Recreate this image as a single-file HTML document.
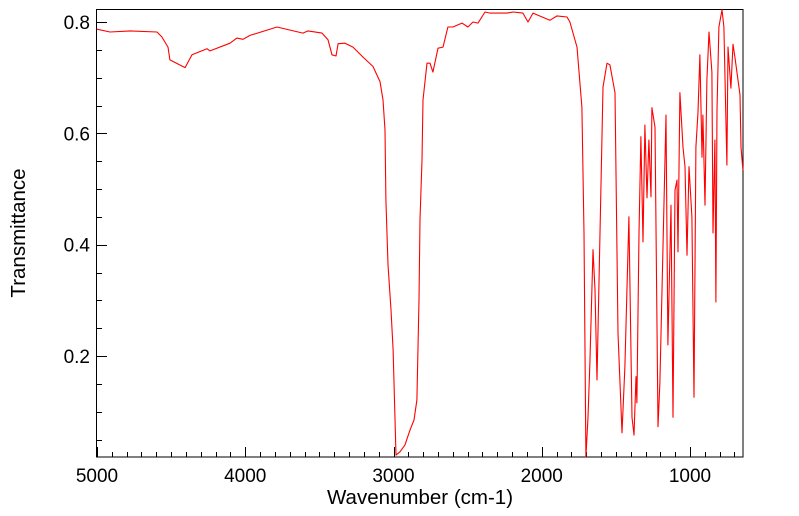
<!DOCTYPE html>
<html><head><meta charset="utf-8"><style>
html,body{margin:0;padding:0;background:#fff;}
svg{display:block;font-family:"Liberation Sans","DejaVu Sans",sans-serif;}
</style></head><body>
<svg id="chart" width="799" height="516" viewBox="0 0 799 516" xmlns="http://www.w3.org/2000/svg">
<rect x="96.5" y="9.5" width="646.5" height="447.5" fill="none" stroke="#000" stroke-width="1"/>
<g id="ticks"></g>
<g id="labels"></g>
<path id="series" fill="none" stroke="#ff0000" stroke-width="1.1" stroke-linejoin="round"/>
<text x="420" y="504" font-size="20.5" text-anchor="middle">Wavenumber (cm-1)</text>
<text x="25" y="233" font-size="20.5" text-anchor="middle" transform="rotate(-90 25 233)">Transmittance</text>
</svg>
<script>
const wavenumbers=[5000,4912,4777,4595,4562,4521,4508,4406,4359,4258,4238,4103,4056,4015,3968,3786,3611,3577,3482,3442,3415,3388,3374,3327,3273,3206,3138,3091,3071,3057,3051,3037,3017,3003,2983,2956,2923,2889,2862,2842,2828,2821,2808,2801,2774,2754,2734,2700,2666,2633,2599,2538,2498,2464,2430,2383,2349,2235,2194,2127,2093,2059,1945,1897,1830,1810,1762,1729,1715,1702,1688,1675,1654,1641,1627,1607,1587,1560,1540,1506,1486,1459,1439,1412,1391,1378,1364,1358,1344,1331,1317,1304,1290,1277,1263,1257,1236,1216,1203,1162,1149,1128,1115,1101,1088,1081,1068,1047,1034,1020,1007,987,973,960,946,933,919,913,899,886,872,852,845,832,825,818,805,784,771,751,744,724,710,697,663,656,643];
const transmittance=[.787,.782,.784,.782,.773,.755,.732,.718,.741,.752,.748,.762,.771,.769,.776,.791,.780,.784,.780,.768,.741,.739,.761,.762,.755,.737,.720,.693,.660,.606,.480,.364,.283,.211,.022,.028,.040,.067,.085,.121,.301,.445,.552,.660,.726,.726,.710,.753,.755,.791,.791,.798,.791,.800,.798,.818,.816,.816,.818,.816,.800,.816,.803,.811,.809,.800,.755,.647,.421,.019,.090,.188,.391,.319,.157,.421,.683,.726,.723,.673,.241,.062,.181,.450,.090,.058,.163,.116,.421,.594,.405,.615,.484,.588,.486,.646,.611,.073,.153,.633,.220,.471,.090,.498,.516,.387,.673,.575,.540,.381,.540,.450,.126,.575,.638,.741,.557,.633,.471,.696,.782,.710,.421,.588,.297,.642,.791,.822,.791,.543,.755,.681,.760,.737,.669,.575,.534];
const xTickLabels=[5000,4000,3000,2000,1000];
const yTickLabels=[0.2,0.4,0.6,0.8];

const X0=97,PX=593/4000, Y08=22, PY=556.7;
const xs=w=>X0+(5000-w)*PX;
const ys=t=>Y08+(0.8-t)*PY;
const NS="http://www.w3.org/2000/svg";
let d="";
for(let i=0;i<wavenumbers.length;i++){d+=(i?"L":"M")+xs(wavenumbers[i]).toFixed(1)+" "+ys(transmittance[i]).toFixed(1);}
document.getElementById("series").setAttribute("d",d);
const tg=document.getElementById("ticks"), lg=document.getElementById("labels");
function line(x1,y1,x2,y2){const l=document.createElementNS(NS,"line");l.setAttribute("x1",x1);l.setAttribute("y1",y1);l.setAttribute("x2",x2);l.setAttribute("y2",y2);l.setAttribute("stroke","#000");l.setAttribute("stroke-width","1");


tg.appendChild(l);}
for(let w=5000;w>=700;w-=100){const x=Math.round(xs(w))+0.5;const major=w%1000===0;line(x,457,x,457-(major?10:5));}
for(let k=1;k<=16;k++){const t=k*0.05;const y=ys(t);if(y<9||y>457)continue;const yy=Math.round(y)+0.5;const major=Math.abs(t*10-Math.round(t*10))<1e-6&&Math.round(t*10)%2===0;line(97,yy,97+(major?10:5),yy);}
xTickLabels.forEach(v=>{const t=document.createElementNS(NS,"text");t.setAttribute("x",xs(v));t.setAttribute("y",482);t.setAttribute("font-size","19");t.setAttribute("text-anchor","middle");t.textContent=v;


lg.appendChild(t);});
yTickLabels.forEach(v=>{const t=document.createElementNS(NS,"text");t.setAttribute("x",90);t.setAttribute("y",ys(v)+7);t.setAttribute("font-size","19");t.setAttribute("text-anchor","end");t.textContent=v.toFixed(1);


lg.appendChild(t);});
</script>
</body></html>
